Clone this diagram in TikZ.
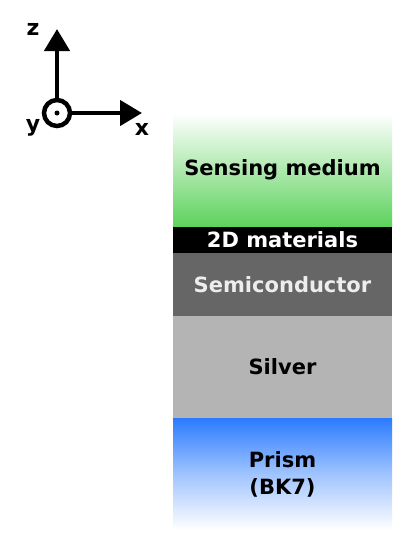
\documentclass[tikz,border=0pt]{standalone}
\usepackage{fontspec}
\setmainfont{DejaVu Sans}
\usetikzlibrary{arrows.meta}
\definecolor{sensegreen}{RGB}{92,210,92}
\definecolor{semigray}{RGB}{102,102,102}
\definecolor{silvergray}{RGB}{180,180,180}
\definecolor{prismblue}{RGB}{43,123,255}
\begin{document}
\begin{tikzpicture}[x=1pt,y=-1pt,
    layer/.style={minimum width=219pt,inner sep=0pt,font=\bfseries\fontsize{21}{27}\selectfont},
    axis/.style={line width=4.5pt,-{Triangle[width=25pt,length=22pt]}},
    axlabel/.style={font=\bfseries\fontsize{22}{24}\selectfont}]
    \useasboundingbox (0,0) rectangle (409,550);

    % layers
    \node[layer,minimum height=114pt,top color=white,bottom color=sensegreen] (medium) at (282.5,170) {Sensing medium};
    \node[layer,minimum height=26pt,fill=black,text=white] (twod) at (282.5,240) {2D materials};
    \node[layer,minimum height=63pt,fill=semigray,text=white!93!black] (semi) at (282.5,284.5) {Semiconductor};
    \node[layer,minimum height=102pt,fill=silvergray] (silver) at (282.5,367) {Silver};
    \node[layer,minimum height=112pt,top color=prismblue,bottom color=white,middle color=prismblue!45,align=center] (prism) at (282.5,474) {Prism\\(BK7)};

    % axes
    \node[circle,draw=black,line width=4.5pt,minimum size=26pt,inner sep=0pt] (origin) at (57,113) {};
    \fill (origin.center) circle (2.5pt);
    \coordinate (ztip) at (57,29);
    \coordinate (xtip) at (142,113);
    \draw[axis] (origin.north) -- (ztip);
    \draw[axis] (origin.east) -- (xtip);
    \node[axlabel] (lz) at (33,29) {z};
    \node[axlabel] (ly) at (33,128) {y};
    \node[axlabel] (lx) at (142,129) {x};
\end{tikzpicture}
\end{document}
